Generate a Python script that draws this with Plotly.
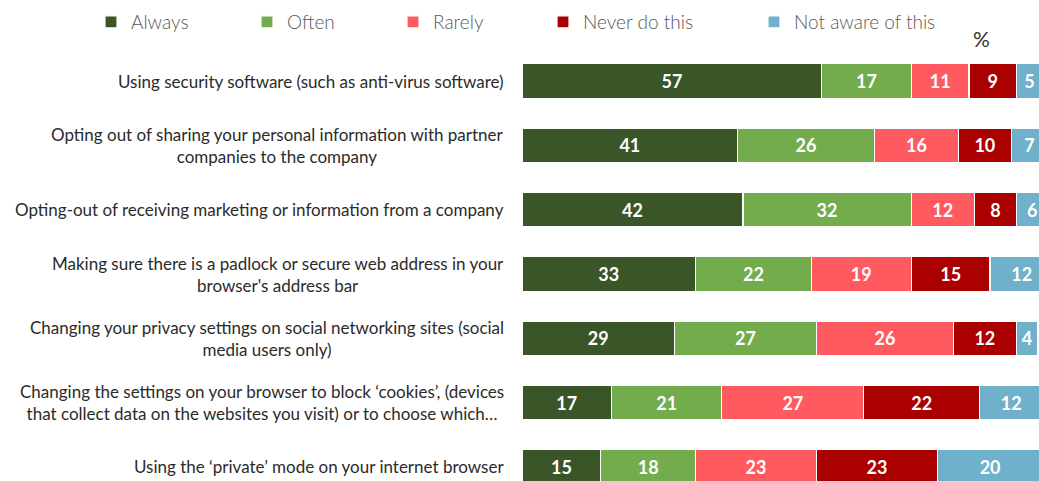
import plotly.graph_objects as go

# Survey items (top to bottom) and the share of respondents per answer, in %
items = [
    "Using security software (such as anti-virus software)",
    "Opting out of sharing your personal information with partner<br>companies to the company",
    "Opting-out of receiving marketing or information from a company",
    "Making sure there is a padlock or secure web address in your<br>browser's address bar",
    "Changing your privacy settings on social networking sites (social<br>media users only)",
    "Changing the settings on your browser to block \u2018cookies\u2019, (devices<br>that collect data on the websites you visit) or to choose which\u2026",
    "Using the \u2018private\u2019 mode on your internet browser",
]
always = [57, 41, 42, 33, 29, 17, 15]
often = [17, 26, 32, 22, 27, 21, 18]
rarely = [11, 16, 12, 19, 26, 27, 23]
never = [9, 10, 8, 15, 12, 22, 23]
not_aware = [5, 7, 6, 12, 4, 12, 20]

series_names = ["Always", "Often", "Rarely", "Never do this", "Not aware of this"]
series_values = [always, often, rarely, never, not_aware]
series_colors = ["#3A5527", "#72AC4D", "#FF5A5F", "#AA0000", "#6FB0CA"]
# left edge (px) of each legend entry
legend_left_px = [91, 247, 393, 543, 754]

W, H = 1039, 481
L, T = 522, 45
plot_w = W - L
plot_h = H - T

fig = go.Figure()
legend_layouts = {}
for i, (name, vals, col) in enumerate(zip(series_names, series_values, series_colors)):
    lg = f"legend{i + 2}"
    fig.add_trace(go.Bar(
        y=items, x=vals, name=name, orientation="h",
        marker=dict(color=col, line=dict(color="white", width=1.2)),
        width=0.54,
        text=vals, texttemplate="%{x}",
        textposition="inside", insidetextanchor="middle",
        textfont=dict(color="white", size=18, family="Lato", weight="bold"),
        legend=lg, hoverinfo="skip",
    ))
    legend_layouts[lg] = dict(
        x=(legend_left_px[i] - L) / plot_w, xanchor="left",
        y=1 + (T - 22) / plot_h, yanchor="middle",
        orientation="h", bgcolor="rgba(0,0,0,0)", borderwidth=0,
        font=dict(family="Lato", size=19, color="#595959", weight=300),
    )

# category labels, centred within their own block and right-aligned to the bars
for item in items:
    fig.add_annotation(
        x=0, xref="paper", y=item, yref="y",
        text=item, showarrow=False,
        xanchor="right", yanchor="middle", align="center", xshift=-16,
        font=dict(family="Lato", size=17, color="#2b2b2b"),
    )

fig.add_annotation(
    x=(981 - L) / plot_w, xref="paper", y=1 + (T - 38) / plot_h, yref="paper",
    text="%", showarrow=False, xanchor="center", yanchor="middle",
    font=dict(family="Lato", size=21, color="#333333"),
)

fig.update_layout(
    width=W, height=H,
    margin=dict(l=L, r=0, t=T, b=0, pad=0),
    barmode="stack",
    plot_bgcolor="white", paper_bgcolor="white",
    showlegend=True,
    uniformtext=dict(minsize=18, mode="show"),
    xaxis=dict(range=[0, 98.3], visible=False),
    yaxis=dict(range=[6.218, -0.56], showticklabels=False, showgrid=False,
               zeroline=False, ticks=""),
    **legend_layouts,
)

fig.write_html("out.html")
